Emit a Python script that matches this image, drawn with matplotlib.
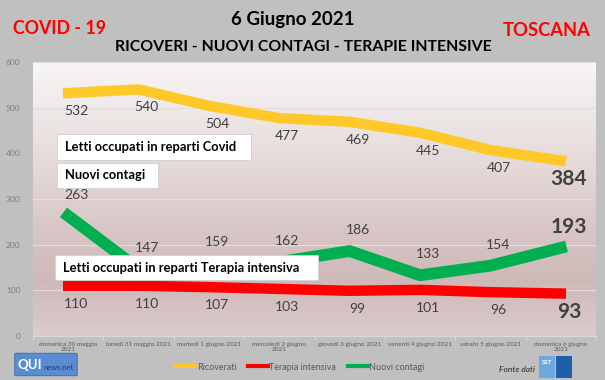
import numpy as np
import matplotlib
matplotlib.use("Agg")
import matplotlib.pyplot as plt
from matplotlib.patches import Rectangle, FancyBboxPatch

plt.rcParams['font.family'] = ['Lato', 'DejaVu Sans']

giorni = ["domenica 30 maggio\n2021", "lunedì 31 maggio 2021", "martedì 1 giugno 2021",
          "mercoledì 2 giugno\n2021", "giovedì 3 giugno 2021", "venerdì 4 giugno 2021",
          "sabato 5 giugno 2021", "domenica 6 giugno\n2021"]
ricoverati = [532, 540, 504, 477, 469, 445, 407, 384]
terapia = [110, 110, 107, 103, 99, 101, 96, 93]
contagi = [263, 147, 159, 162, 186, 133, 154, 193]

GIALLO = "#fec828"
ROSSO = "#ff0000"
VERDE = "#00b050"
GRIGIO = "#404040"

fig = plt.figure(figsize=(6.05, 3.80), dpi=100)
fig.patch.set_facecolor("#c0c0c0")
W, H = 605, 380
ax = fig.add_axes([33 / W, 1 - 336 / H, (596 - 33) / W, (336 - 62) / H])
ax.set_facecolor("none")

# sfondo sfumato dell'area del grafico
grad = np.linspace(0, 1, 256)[:, None]
top = np.array([0.975, 0.965, 0.965])
mid = np.array([0.81, 0.72, 0.72])
bot = np.array([0.86, 0.80, 0.80])
cols = np.where(grad[..., None] < 0.8,
                top + (mid - top) * (grad[..., None] / 0.8),
                mid + (bot - mid) * ((grad[..., None] - 0.8) / 0.2))
ax.imshow(cols, extent=[-0.5, 7.5, 0, 600], aspect="auto", zorder=0)

x = np.arange(len(giorni))
ax.set_xlim(-0.5, 7.5)
ax.set_ylim(0, 600)
ax.set_yticks(range(0, 601, 100))
ax.grid(axis="y", color="#e6dcdc", lw=0.8, zorder=1)
for s in ax.spines.values():
    s.set_visible(False)
ax.spines["bottom"].set_visible(True)
ax.spines["bottom"].set_color("#d9d9d9")
ax.tick_params(axis="y", length=0, labelsize=6, colors="#7f7f7f", pad=9)
ax.set_xticks(np.arange(-0.5, 7.6, 1), minor=False)
ax.set_xticklabels([])
ax.tick_params(axis="x", length=3, color="#d9d9d9", direction="out")
ax.set_xticks(x, minor=True)
ax.set_xticklabels(giorni, minor=True, fontsize=4.6, color="#595959", linespacing=1.1)
ax.tick_params(axis="x", which="minor", length=0, pad=4)

ax.plot(x, ricoverati, color=GIALLO, lw=7.5, solid_capstyle="projecting", zorder=3, label="Ricoverati")
ax.plot(x, terapia, color=ROSSO, lw=7.5, solid_capstyle="projecting", zorder=3, label="Terapia intensiva")
ax.plot(x, contagi, color=VERDE, lw=8.5, solid_capstyle="projecting", zorder=3, label="Nuovi contagi")

def etichette(valori, dy):
    for i, v in enumerate(valori):
        ultimo = i == len(valori) - 1
        ax.annotate(str(v), (i, v), xytext=(8, dy), textcoords="offset pixels",
                    ha="center", va="center", color=GRIGIO, zorder=8,
                    fontsize=15 if ultimo else 10, fontweight="bold" if ultimo else "normal")

etichette(ricoverati, -18)
etichette(contagi, 21)
etichette(terapia, -18)

# riquadri descrittivi
def riquadro(x0, y0, x1, y1, testo):
    fig.add_artist(Rectangle((x0 / W, 1 - y1 / H), (x1 - x0) / W, (y1 - y0) / H,
                             transform=fig.transFigure, facecolor="white",
                             edgecolor="#d0d0d0", lw=0.6, zorder=6))
    fig.text((x0 + 8) / W, 1 - (y0 + y1) / 2 / H, testo, ha="left", va="center",
             fontsize=9.3, fontweight="bold", color="black", zorder=7)

riquadro(57, 134, 251, 160, "Letti occupati in reparti Covid")
riquadro(57, 163, 158, 188, "Nuovi contagi")
riquadro(55, 255, 318, 280, "Letti occupati in reparti Terapia intensiva")

# titoli
fig.text(293 / W, 1 - 19 / H, "6 Giugno 2021", ha="center", va="center",
         fontsize=13.5, fontweight="bold", color="black")
fig.text(303 / W, 1 - 47 / H, "RICOVERI - NUOVI CONTAGI - TERAPIE INTENSIVE",
         ha="center", va="center", fontsize=11.4, fontweight="bold", color="black")
fig.text(13 / W, 1 - 29 / H, "COVID - 19", ha="left", va="center",
         fontsize=12.8, fontweight="bold", color=ROSSO)
fig.text(591 / W, 1 - 30 / H, "TOSCANA", ha="right", va="center",
         fontsize=13.2, fontweight="bold", color=ROSSO)

# legenda
leg = fig.legend(loc="center", bbox_to_anchor=(300 / W, 1 - 367 / H), ncol=3,
                 frameon=False, fontsize=6.5, handlelength=2.2, handletextpad=0.1,
                 columnspacing=1.3, labelcolor="#595959")
for h in leg.get_lines():
    h.set_linewidth(3)

# loghi
fig.add_artist(FancyBboxPatch((16 / W, 1 - 375 / H), 60 / W, 21 / H,
                              boxstyle="round,pad=0.002", transform=fig.transFigure,
                              facecolor="#5b8bd0", edgecolor="#3a66a8", lw=0.6))
fig.text(18 / W, 1 - 365 / H, "QUI", fontsize=9.5, fontweight="bold", color="white",
         ha="left", va="center")
fig.text(44 / W, 1 - 367 / H, "news.net", fontsize=5.5, color="#1f3d7a",
         ha="left", va="center")
fig.text(499 / W, 1 - 369 / H, "Fonte dati", fontsize=6, style="italic",
         color="#262626", ha="left", va="center")
fig.add_artist(Rectangle((539 / W, 1 - 378 / H), 16 / W, 22 / H, transform=fig.transFigure,
                         facecolor="#6fa8dc", edgecolor="none"))
fig.add_artist(Rectangle((556 / W, 1 - 378 / H), 16 / W, 22 / H, transform=fig.transFigure,
                         facecolor="#1f5fa8", edgecolor="none"))
fig.text(547 / W, 1 - 362 / H, "SST", fontsize=4.5, fontweight="bold", color="white",
         ha="center", va="center")

fig.savefig("out.png", dpi=100, facecolor=fig.get_facecolor())
